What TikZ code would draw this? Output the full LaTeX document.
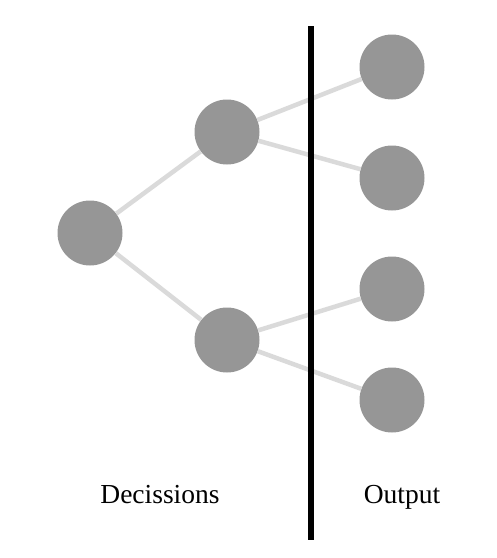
\documentclass[tikz,border=0pt]{standalone}
\usepackage{fontspec}
\setmainfont{Liberation Serif}
\definecolor{nodegray}{RGB}{150,150,150}
\definecolor{edgegray}{RGB}{218,218,218}
\begin{document}
\begin{tikzpicture}[x=1pt,y=-1pt,
  dot/.style={circle,fill=nodegray,minimum size=65pt,inner sep=0pt},
  edge/.style={draw=edgegray,line width=4.5pt},
  lbl/.style={font=\fontsize{27.5}{30}\selectfont,inner sep=0pt,anchor=base}]
\useasboundingbox (0,0) rectangle (497,558);
\node[dot] (r) at (90,233) {};
\node[dot] (a) at (227,132) {};
\node[dot] (b) at (227,340) {};
\node[dot] (l1) at (392,67) {};
\node[dot] (l2) at (392,178) {};
\node[dot] (l3) at (392,289) {};
\node[dot] (l4) at (392,400) {};
\begin{scope}[on background layer/.style={}]
\end{scope}
\draw[edge] (r) -- (a);
\draw[edge] (r) -- (b);
\draw[edge] (a) -- (l1);
\draw[edge] (a) -- (l2);
\draw[edge] (b) -- (l3);
\draw[edge] (b) -- (l4);
\coordinate (ltop) at (311,26);
\coordinate (lbot) at (311,540);
\draw[line width=6pt,black] (ltop) -- (lbot);
\node[lbl] (t1) at (160,503) {Decissions};
\node[lbl] (t2) at (402,503) {Output};
\end{tikzpicture}
\end{document}
